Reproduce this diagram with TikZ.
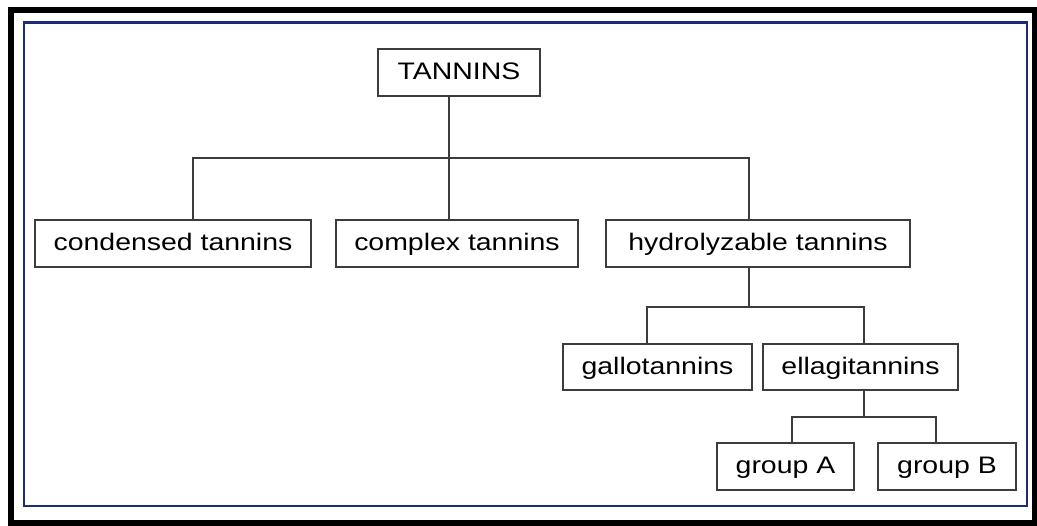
\documentclass[tikz,border=0pt]{standalone}
\usepackage{fontspec}
\setmainfont{Liberation Sans}
\usetikzlibrary{positioning}
\definecolor{framenavy}{HTML}{1C2C7A}
\definecolor{inkdark}{HTML}{3C3C3C}
\newcommand{\widetext}[1]{\scalebox{1.19}[1]{#1}}

\begin{document}
\begin{tikzpicture}[x=0.02cm, y=-0.02cm,
    box/.style={draw=inkdark, line width=1pt, minimum height=0.94cm,
                inner sep=0pt, text height=0.95em, text depth=0.15em,
                font=\fontsize{13.6}{16}\selectfont},
    link/.style={draw=inkdark, line width=0.8pt}]
  \useasboundingbox (0,0) rectangle (1037,525);
  % frames
  \draw[black, line width=0.12cm] (11,10) rectangle (1034.5,522.5);
  \draw[framenavy, line width=0.05cm] (24,22.5) rectangle (1027,506);

  % boxes
  \node[box, minimum width=3.24cm] (tannins) at (459,72.5) {\widetext{TANNINS}};
  \node[box, minimum width=5.52cm] (condensed) at (173,243.5) {\widetext{condensed tannins}};
  \node[box, minimum width=4.84cm] (complex) at (457,243.5) {\widetext{complex tannins}};
  \node[box, minimum width=6.08cm] (hydro) at (758,243.5) {\widetext{hydrolyzable tannins}};
  \node[box, minimum width=3.78cm, minimum height=0.92cm] (gallo) at (657.5,367) {\widetext{gallotannins}};
  \node[box, minimum width=3.9cm, minimum height=0.92cm] (ellagi) at (860.5,367) {\widetext{ellagitannins}};
  \node[box, minimum width=2.74cm] (groupa) at (785.5,466.5) {\widetext{group A}};
  \node[box, minimum width=2.76cm] (groupb) at (947,466.5) {\widetext{group B}};

  % junctions
  \coordinate (t0) at (449,158);
  \coordinate (t1) at (193,158);
  \coordinate (t3) at (749,158);
  \coordinate (m0) at (749,307);
  \coordinate (m1) at (647,307);
  \coordinate (m2) at (864,307);
  \coordinate (l0) at (864,417);
  \coordinate (l1) at (792,417);
  \coordinate (l2) at (936,417);

  % tree lines
  \draw[link] (tannins.south -| t0) -- (complex.north -| t0);
  \draw[link] (condensed.north -| t1) -- (t1) -- (t3) -- (hydro.north -| t3);
  \draw[link] (hydro.south -| m0) -- (m0);
  \draw[link] (gallo.north -| m1) -- (m1) -- (m2) -- (ellagi.north -| m2);
  \draw[link] (ellagi.south -| l0) -- (l0);
  \draw[link] (groupa.north -| l1) -- (l1) -- (l2) -- (groupb.north -| l2);
\end{tikzpicture}
\end{document}
